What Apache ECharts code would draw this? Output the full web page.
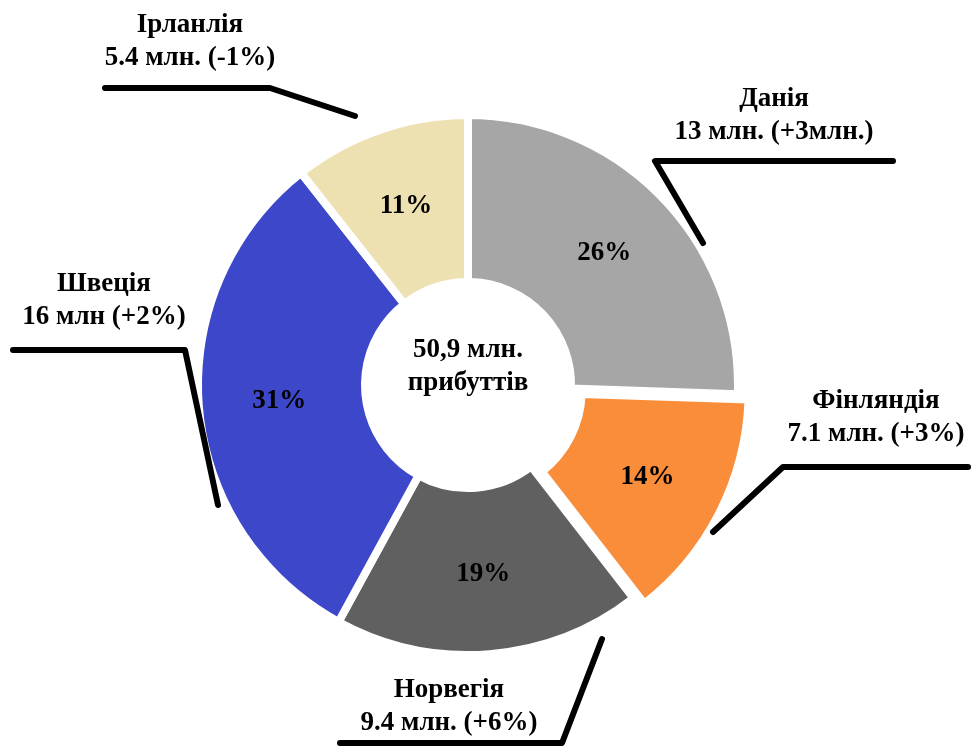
<!DOCTYPE html>
<html>
<head>
<meta charset="utf-8">
<script src="https://cdn.jsdelivr.net/npm/echarts@6/dist/echarts.min.js"></script>
<style>
html,body{margin:0;padding:0;background:#fff}
#main{width:977px;height:749px}
</style>
</head>
<body>
<div id="main"></div>
<script>
/*прибуття туристів по країнах*/
var countries = ['Данія', 'Фінляндія', 'Норвегія', 'Швеція', 'Ірланлія'];
var arrivals = [13, 7.1, 9.4, 16, 5.4];               // млн.
var arrivalText = ['13 млн.', '7.1 млн.', '9.4 млн.', '16 млн', '5.4 млн.'];
var changes = ['+3млн.', '+3%', '+6%', '+2%', '-1%'];
var shares = ['26%', '14%', '19%', '31%', '11%'];
var totalText = '50,9 млн.\nприбуттів';

var colors = ['#a6a6a6', '#f98d3a', '#606060', '#3d47c9', '#ede0b1'];
var CENTER = [468, 385];
var RADIUS = [103, 270];
var FONT = '"Liberation Serif", "DejaVu Serif", serif';

// лінії-виноски: початок, злам, кінець; центр підпису
var leaders = [
    {pts: [[703, 243], [655, 161], [893, 161]], at: [774, 116]},
    {pts: [[713, 532], [783, 467], [968, 467]], at: [876, 418]},
    {pts: [[602, 639], [562, 743], [340, 743]], at: [449, 707]},
    {pts: [[218, 505], [185, 350], [13, 350]],  at: [104, 301]},
    {pts: [[355, 116], [270, 88], [105, 88]],   at: [190, 42]}
];

var slices = countries.map(function (c, i) {
    return {
        name: c,
        value: arrivals[i],
        selected: i == 1,
        itemStyle: {color: colors[i]}
    };
});

var myChart = echarts.init(document.getElementById('main'));
var option = {
    animation: false,
    backgroundColor: '#fff',
    graphic: [{
        type: 'text',
        x: CENTER[0],
        y: CENTER[1] - 18,
        style: {
            text: totalText,
            align: 'center',
            verticalAlign: 'middle',
            fontFamily: FONT,
            fontSize: 27,
            fontWeight: 'bold',
            lineHeight: 33,
            fill: '#000'
        }
    }],
    series: [
        {
            type: 'pie',
            z: 2,
            center: CENTER,
            radius: RADIUS,
            startAngle: 90,
            clockwise: true,
            selectedMode: 'multiple',
            selectedOffset: 12,
            silent: true,
            itemStyle: {borderColor: '#fff', borderWidth: 8},
            label: {
                show: true,
                position: 'inside',
                formatter: function (p) { return shares[p.dataIndex]; },
                fontFamily: FONT,
                fontSize: 27,
                fontWeight: 'bold',
                color: '#000'
            },
            labelLine: {show: false},
            data: slices
        },
        {
            // прозорий шар тільки для підписів і виносок
            type: 'pie',
            z: 6,
            center: CENTER,
            radius: RADIUS,
            startAngle: 90,
            clockwise: true,
            silent: true,
            itemStyle: {color: 'rgba(0,0,0,0)', borderWidth: 0},
            label: {
                show: true,
                position: 'outside',
                overflow: 'none',
                formatter: function (p) {
                    return countries[p.dataIndex] + '\n' + arrivalText[p.dataIndex] + ' (' + changes[p.dataIndex] + ')';
                },
                fontFamily: FONT,
                fontSize: 27,
                fontWeight: 'bold',
                lineHeight: 33,
                align: 'center',
                color: '#000'
            },
            labelLine: {
                show: true,
                lineStyle: {color: '#000', width: 6, cap: 'round', join: 'round'}
            },
            labelLayout: function (p) {
                var l = leaders[p.dataIndex];
                return {
                    x: l.at[0],
                    y: l.at[1],
                    align: 'center',
                    verticalAlign: 'middle',
                    labelLinePoints: l.pts
                };
            },
            data: countries.map(function (c, i) { return {name: c, value: arrivals[i]}; })
        }
    ]
};
myChart.setOption(option);
</script>
</body>
</html>
